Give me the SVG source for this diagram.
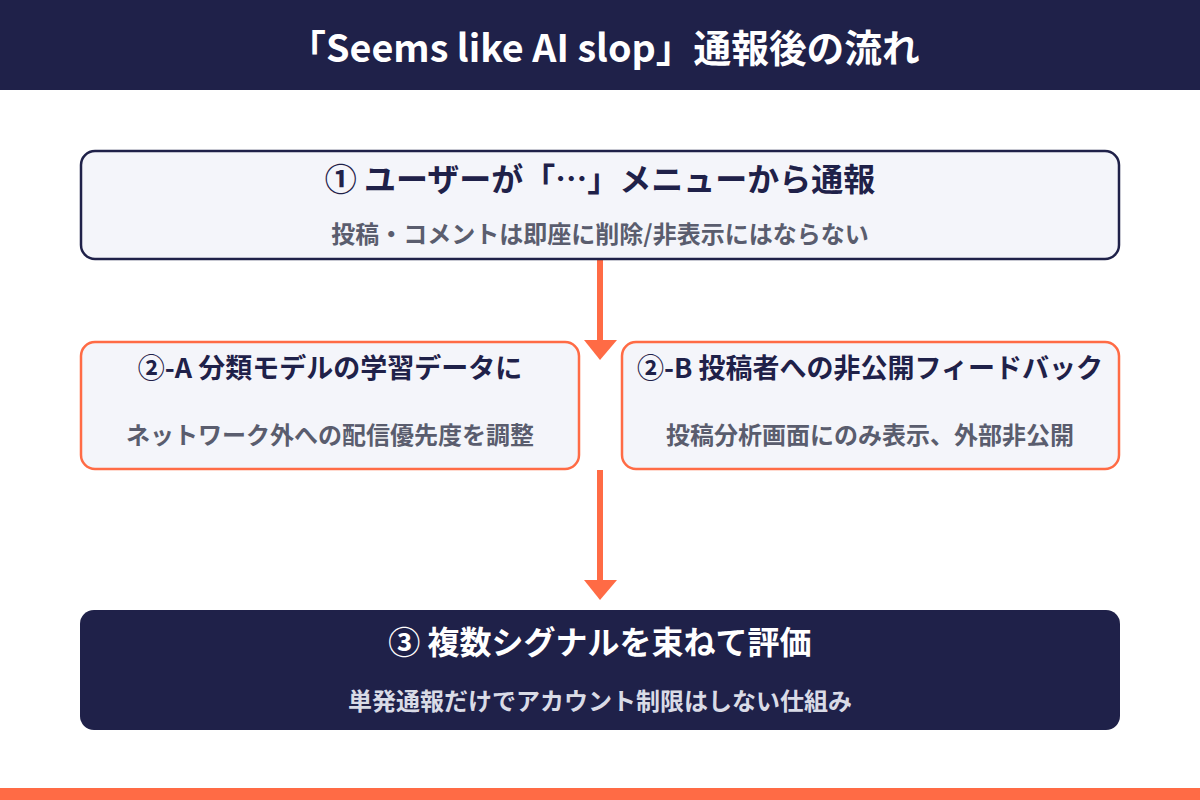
<svg xmlns="http://www.w3.org/2000/svg" width="1200" height="800" viewBox="0 0 1200 800">
  <style>
    text { font-family: "Noto Sans CJK JP", "Noto Sans", sans-serif; font-weight: 700; text-anchor: middle; dominant-baseline: central; }
    .hdr { fill: #ffffff; font-size: 37.7px; }
    .t1 { fill: #1f2149; font-size: 32px; }
    .t2 { fill: #1f2149; font-size: 27px; }
    .sub { fill: #5a5d6e; font-size: 24px; }
    .t3 { fill: #ffffff; font-size: 32px; }
    .sub3 { fill: #d9dbe6; font-size: 24px; }
    .light { fill: #f4f5fa; }
    .conn { stroke: #ff6b45; stroke-width: 6; fill: none; }
    .head { fill: #ff6b45; }
  </style>
  <rect x="0" y="0" width="1200" height="800" fill="#ffffff"/>
  <g id="header">
    <rect x="0" y="0" width="1200" height="90" fill="#1f2149"/>
    <text class="hdr" x="604" y="45">「Seems like AI slop」通報後の流れ</text>
  </g>
  <g id="connectors">
    <line class="conn" x1="600" y1="260" x2="600" y2="342"/>
    <polygon class="head" points="584,340 617,340 600,360"/>
    <line class="conn" x1="600" y1="470" x2="600" y2="582"/>
    <polygon class="head" points="584,580 617,580 600,600"/>
  </g>
  <g id="node1">
    <rect x="81" y="151" width="1038" height="108" rx="14" class="light" stroke="#1f2149" stroke-width="2.5"/>
    <text class="t1" x="600" y="177">① ユーザーが「…」メニューから通報</text>
    <text class="sub" x="600" y="232">投稿・コメントは即座に削除/非表示にはならない</text>
  </g>
  <g id="node2a">
    <rect x="81" y="342" width="498" height="127" rx="14" class="light" stroke="#ff6b45" stroke-width="2.5"/>
    <text class="t2" x="330" y="366">②-A 分類モデルの学習データに</text>
    <text class="sub" x="330" y="433">ネットワーク外への配信優先度を調整</text>
  </g>
  <g id="node2b">
    <rect x="622" y="342" width="497" height="127" rx="14" class="light" stroke="#ff6b45" stroke-width="2.5"/>
    <text class="t2" x="870" y="366">②-B 投稿者への非公開フィードバック</text>
    <text class="sub" x="870" y="433">投稿分析画面にのみ表示、外部非公開</text>
  </g>
  <g id="node3">
    <rect x="80" y="610" width="1040" height="120" rx="14" fill="#1f2149"/>
    <text class="t3" x="600" y="640">③ 複数シグナルを束ねて評価</text>
    <text class="sub3" x="600" y="699">単発通報だけでアカウント制限はしない仕組み</text>
  </g>
  <g id="footer">
    <rect x="0" y="788" width="1200" height="12" fill="#ff6b45"/>
  </g>
</svg>
